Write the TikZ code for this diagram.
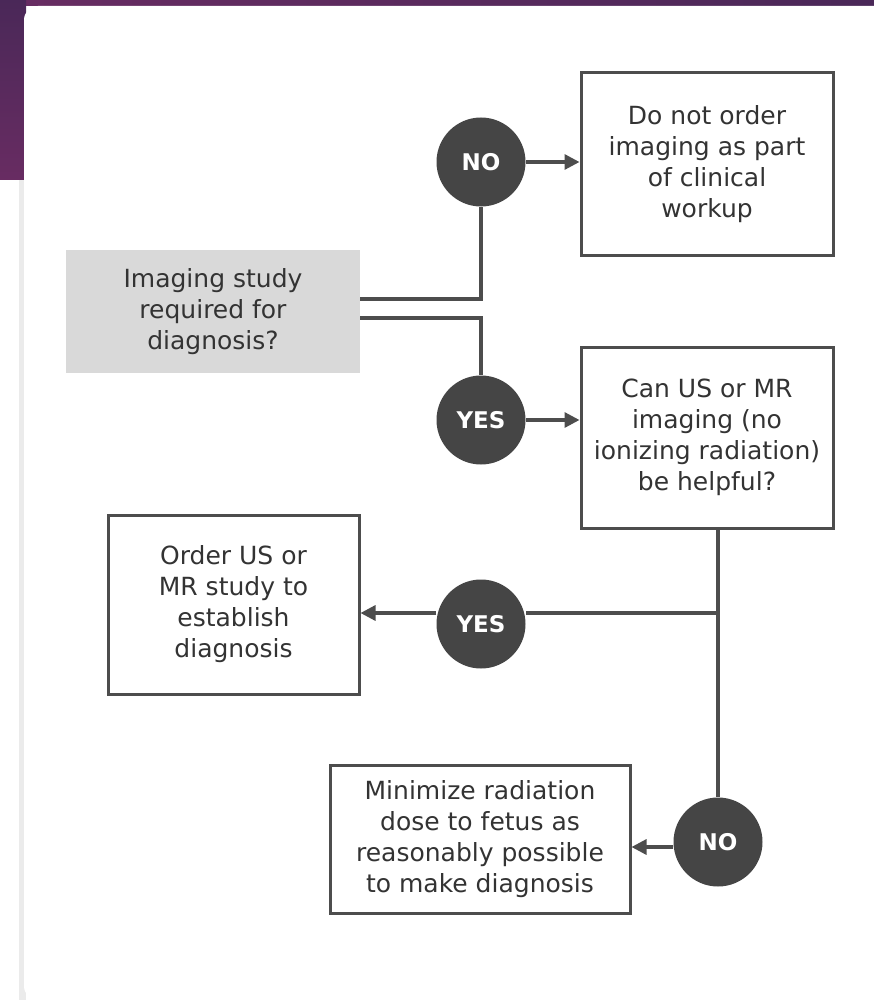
\documentclass[tikz,border=0pt]{standalone}
\usepackage{fontspec}
\setmainfont{DejaVu Sans}
\usetikzlibrary{arrows.meta,calc}
\definecolor{purpA}{HTML}{4A2858}
\definecolor{purpB}{HTML}{682C62}
\definecolor{lineC}{HTML}{4D4D4D}
\definecolor{circC}{HTML}{454545}
\definecolor{textC}{HTML}{333333}
\definecolor{grayF}{HTML}{D9D9D9}
\definecolor{shadowC}{HTML}{EBEBEB}
\tikzset{
  box/.style={draw=lineC, line width=3pt, fill=white, align=center, text=textC,
    font=\fontsize{25}{31}\selectfont, inner sep=0pt},
  qbox/.style={fill=grayF, align=center, text=textC,
    font=\fontsize{25}{31}\selectfont, inner sep=0pt},
  dot/.style={circle, fill=circC, minimum size=89pt, inner sep=0pt, text=white,
    font=\fontsize{23}{26}\selectfont\bfseries},
  conn/.style={draw=lineC, line width=3.2pt},
  arr/.style={conn, -{Triangle[length=15pt,width=15pt]}},
}
\begin{document}
\begin{tikzpicture}[x=1pt,y=-1pt]
\useasboundingbox (0,0) rectangle (874,1003);
% background
\fill[white] (0,0) rectangle (874,1003);
\shade[left color=purpB, right color=purpA] (0,0) rectangle (874,6);
\shade[top color=purpA, bottom color=purpB] (0,0) rectangle (26,180);
\fill[shadowC] (19,180) rectangle (26,1000);
\fill[white, rounded corners=14pt] (24,6) rectangle (890,1000);

% nodes
\node[qbox, minimum width=294pt, minimum height=123pt] (q1) at (213,311.5)
  {Imaging study\\required for\\diagnosis?};
\node[dot] (no1) at (481,162) {NO};
\node[box, minimum width=252pt, minimum height=182pt] (b1) at (707,164)
  {Do not order\\imaging as part\\of clinical\\workup};
\node[dot] (yes1) at (481,420) {YES};
\node[box, minimum width=252pt, minimum height=181pt] (b2) at (707,437.5)
  {Can US or MR\\imaging (no\\ionizing radiation)\\be helpful?};
\node[dot] (yes2) at (481,624) {YES};
\node[box, minimum width=251pt, minimum height=179pt] (b3) at (233.5,604.5)
  {Order US or\\MR study to\\establish\\diagnosis};
\node[dot] (no2) at (718,842) {NO};
\node[box, minimum width=300pt, minimum height=148pt] (b4) at (480,839)
  {Minimize radiation\\dose to fetus as\\reasonably possible\\to make diagnosis};
\coordinate (j) at (718,613);
\coordinate (n2w) at ($(no2.west)+(0,5)$);

% connectors
\draw[conn] ([yshift=12.5pt]q1.east) -| (no1.south);
\draw[conn] ([yshift=-6.5pt]q1.east) -| (yes1.north);
\draw[arr] (no1.east) -- (no1.east -| b1.west);
\draw[arr] (yes1.east) -- (yes1.east -| b2.west);
\draw[conn] (b2.south -| j) -- (no2.north);
\draw[conn] (j) -- (j -| yes2.east);
\draw[arr] (j -| yes2.west) -- (j -| b3.east);
\draw[arr] (n2w) -- (n2w -| b4.east);
\end{tikzpicture}
\end{document}
